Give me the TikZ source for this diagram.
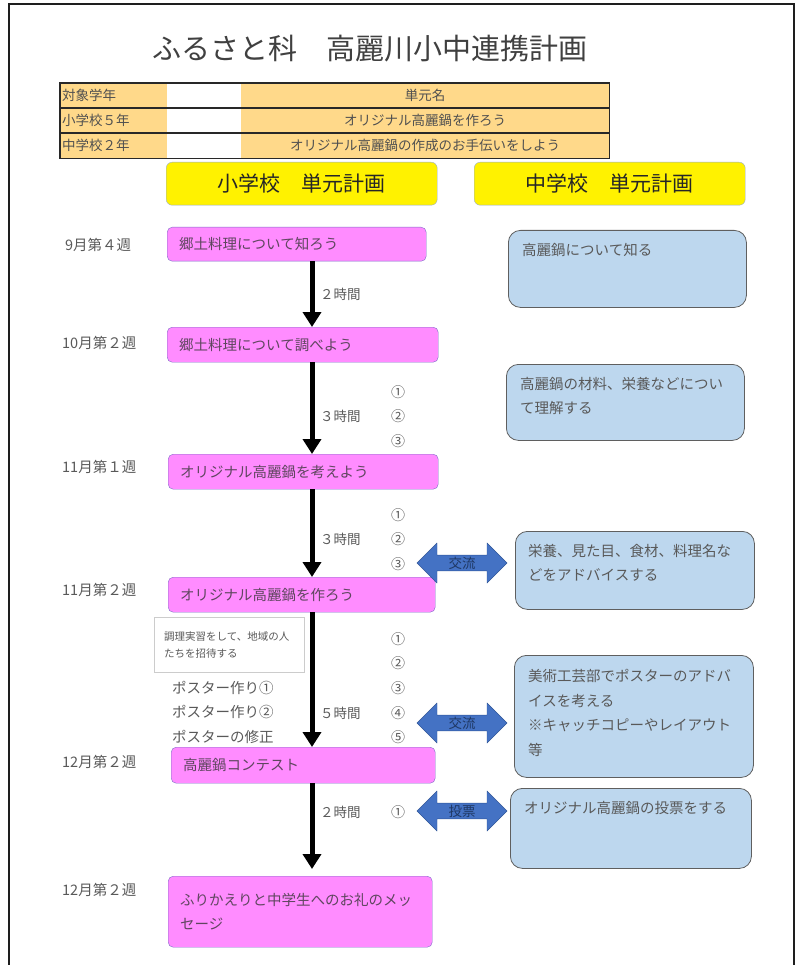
\documentclass[tikz,border=0pt]{standalone}
\usepackage{fontspec}
\setmainfont{Noto Sans CJK JP}
\usepackage{xcolor}
\usetikzlibrary{arrows.meta, positioning, shapes.arrows}
\definecolor{tablegold}{RGB}{255,217,138}
\definecolor{tablerule}{RGB}{40,40,40}
\definecolor{tabletext}{RGB}{80,80,80}
\definecolor{planpink}{RGB}{255,140,255}
\definecolor{pinkedge}{RGB}{125,110,200}
\definecolor{pinktext}{RGB}{95,70,95}
\definecolor{planblue}{RGB}{189,215,238}
\definecolor{blueedge}{RGB}{95,95,95}
\definecolor{headedge}{RGB}{150,170,210}
\definecolor{swapblue}{RGB}{68,114,196}
\definecolor{swapedge}{RGB}{47,85,151}
\definecolor{navytext}{RGB}{31,56,100}
\definecolor{softtext}{RGB}{89,89,89}
\definecolor{framegray}{RGB}{30,30,30}

\begin{document}
\begin{tikzpicture}[x=1pt, y=-1pt,
    bodyfont/.style={font=\fontsize{14.5}{24.5}\selectfont},
    datelabel/.style={anchor=west, inner sep=0pt, text=softtext, font=\fontsize{14.5}{16}\selectfont},
    hourlabel/.style={anchor=west, inner sep=0pt, text=softtext, font=\fontsize{13.5}{15}\selectfont},
    posterlabel/.style={anchor=west, inner sep=0pt, text=softtext, font=\fontsize{14.5}{16}\selectfont},
    stepnum/.style={inner sep=0pt, text=softtext, font=\fontsize{14}{16}\selectfont},
    headbox/.style={rectangle, rounded corners=6pt, draw=headedge, fill=yellow, anchor=north west,
        minimum width=271pt, minimum height=43pt, text=black!85, font=\fontsize{21}{24}\selectfont},
    pinkbox/.style={rectangle, rounded corners=5pt, draw=pinkedge, fill=planpink, anchor=north west,
        align=left, inner xsep=12pt, text=pinktext, bodyfont},
    bluebox/.style={rectangle, rounded corners=12pt, draw=blueedge, thick, fill=planblue, anchor=north west},
    bluetext/.style={anchor=north west, inner sep=0pt, align=left, text=softtext, bodyfont},
    notebox/.style={rectangle, draw=black!20, fill=white, anchor=north west, align=left,
        text width=130pt, inner xsep=10pt, minimum height=55pt, text=softtext,
        font=\fontsize{10.5}{17}\selectfont},
    swaparrow/.style={double arrow, double arrow head extend=11.5pt, minimum width=40pt,
        minimum height=90pt, inner sep=1pt, fill=swapblue, draw=swapedge, text=navytext,
        font=\fontsize{13.5}{15}\selectfont},
    flowarrow/.style={-{Triangle[width=18pt, length=15pt]}, line width=5pt},
    tablecell/.style={anchor=north west, minimum height=24.7pt, inner sep=2pt, fill=tablegold,
        text=tabletext, font=\fontsize{13.5}{15}\selectfont},
    tableline/.style={line width=1.4pt, draw=tablerule}
]
    \useasboundingbox (0,0) rectangle (800,965);
    \draw[line width=2.5pt, framegray] (9,965) -- (9,4) -- (794,4) -- (794,965);

    \node[text=black!75, font=\fontsize{29}{32}\selectfont] (title) at (370,49) {ふるさと科　高麗川小中連携計画};

    \node[tablecell, text width=103pt, align=left] (r1c1) at (60,83) {対象学年};
    \node[tablecell, text width=69pt, fill=white] (r1c2) at (r1c1.north east) {};
    \node[tablecell, text width=364pt, align=center] (r1c3) at (r1c2.north east) {単元名};
    \node[tablecell, text width=103pt, align=left] (r2c1) at (r1c1.south west) {小学校５年};
    \node[tablecell, text width=69pt, fill=white] (r2c2) at (r2c1.north east) {};
    \node[tablecell, text width=364pt, align=center] (r2c3) at (r2c2.north east) {オリジナル高麗鍋を作ろう};
    \node[tablecell, text width=103pt, align=left] (r3c1) at (r2c1.south west) {中学校２年};
    \node[tablecell, text width=69pt, fill=white] (r3c2) at (r3c1.north east) {};
    \node[tablecell, text width=364pt, align=center] (r3c3) at (r3c2.north east) {オリジナル高麗鍋の作成のお手伝いをしよう};
    \draw[tableline] (r1c1.north west) rectangle (r1c3.south east);
    \draw[tableline] (r2c1.north west) rectangle (r2c3.south east);
    \draw[tableline] (r3c1.north west) rectangle (r3c3.south east);

    \node[headbox] (elemhead) at (166,162) {小学校　単元計画};
    \node[headbox] (juniorhead) at (474,162) {中学校　単元計画};

    \node[datelabel] (date1) at (65,245) {9月第４週};
    \node[datelabel] (date2) at (62,343) {10月第２週};
    \node[datelabel] (date3) at (62,467) {11月第１週};
    \node[datelabel] (date4) at (62,590) {11月第２週};
    \node[datelabel] (date5) at (62,762) {12月第２週};
    \node[datelabel] (date6) at (62,890) {12月第２週};

    \node[pinkbox, text width=235pt, minimum height=34pt] (elem1) at (167,227) {郷土料理について知ろう};
    \node[pinkbox, text width=247pt, minimum height=35pt] (elem2) at (167,327) {郷土料理について調べよう};
    \node[pinkbox, text width=246pt, minimum height=35pt] (elem3) at (168,454) {オリジナル高麗鍋を考えよう};
    \node[pinkbox, text width=243pt, minimum height=35pt] (elem4) at (168,577) {オリジナル高麗鍋を作ろう};
    \node[pinkbox, text width=240pt, minimum height=36pt] (elem5) at (171,747) {高麗鍋コンテスト};
    \node[pinkbox, text width=240pt, minimum height=71pt] (elem6) at (168,876) {ふりかえりと中学生へのお礼のメッ\\セージ};

    \coordinate (spine) at (312,0);
    \draw[flowarrow] (elem1.south -| spine) -- (elem2.north -| spine);
    \draw[flowarrow] (elem2.south -| spine) -- (elem3.north -| spine);
    \draw[flowarrow] (elem3.south -| spine) -- (elem4.north -| spine);
    \draw[flowarrow] (elem4.south -| spine) -- (elem5.north -| spine);
    \draw[flowarrow, shorten >=7pt] (elem5.south -| spine) -- (elem6.north -| spine);

    \node[hourlabel] (hours1) at (320,294) {２時間};
    \node[hourlabel] (hours2) at (320,416) {３時間};
    \node[hourlabel] (hours3) at (320,539) {３時間};
    \node[hourlabel] (hours4) at (320,713) {５時間};
    \node[hourlabel] (hours5) at (320,812) {２時間};

    \foreach \y/\n in {392/①, 416/②, 441/③, 515/①, 539/②, 564/③,
        639/①, 663/②, 688/③, 713/④, 737/⑤, 812/①}
        \node[stepnum] (num-\y) at (398,\y) {\n};

    \node[notebox] (party) at (154,617) {調理実習をして、地域の人\\たちを招待する};
    \node[posterlabel] (poster1) at (172,688) {ポスター作り①};
    \node[posterlabel] (poster2) at (172,712) {ポスター作り②};
    \node[posterlabel] (poster3) at (172,737) {ポスターの修正};

    \node[bluebox, minimum width=238pt, minimum height=77pt] (junior1) at (508,230) {};
    \node[bluetext] (junior1text) at ([xshift=14pt, yshift=-13pt]junior1.north west) {高麗鍋について知る};
    \node[bluebox, minimum width=238pt, minimum height=76pt] (junior2) at (506,364) {};
    \node[bluetext] (junior2text) at ([xshift=14pt, yshift=-13pt]junior2.north west) {高麗鍋の材料、栄養などについ\\て理解する};
    \node[bluebox, minimum width=239pt, minimum height=78pt] (junior3) at (515,531) {};
    \node[bluetext] (junior3text) at ([xshift=13pt, yshift=-13pt]junior3.north west) {栄養、見た目、食材、料理名な\\どをアドバイスする};
    \node[bluebox, minimum width=239pt, minimum height=122pt] (junior4) at (514,655) {};
    \node[bluetext] (junior4text) at ([xshift=14pt, yshift=-14pt]junior4.north west) {美術工芸部でポスターのアドバ\\イスを考える\\※キャッチコピーやレイアウト\\等};
    \node[bluebox, minimum width=241pt, minimum height=80pt] (junior5) at (510,788) {};
    \node[bluetext] (junior5text) at ([xshift=14pt, yshift=-13pt]junior5.north west) {オリジナル高麗鍋の投票をする};

    \node[swaparrow] (swap1) at (462,563) {交流};
    \node[swaparrow] (swap2) at (462,723) {交流};
    \node[swaparrow] (swap3) at (462,811) {投票};
\end{tikzpicture}
\end{document}
